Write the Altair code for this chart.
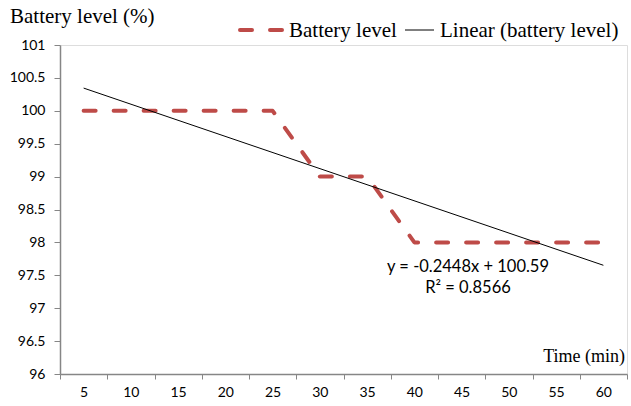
import altair as alt
import pandas as pd

# Measured battery level over a one-hour run
time_min = [5, 10, 15, 20, 25, 30, 35, 40, 45, 50, 55, 60]
battery = [100, 100, 100, 100, 100, 99, 99, 98, 98, 98, 98, 98]

# Linear trendline (x is the point index 1..12)
SLOPE = -0.2448
INTERCEPT = 100.59
R2 = 0.8566

y_ticks = [96, 96.5, 97, 97.5, 98, 98.5, 99, 99.5, 100, 100.5, 101]

RED = "#BE4B48"
AXIS_GREY = "#868686"
SERIF = "Liberation Serif"
SANS = "Lato"

W, H = 567, 329

df = pd.DataFrame({"time": time_min, "level": battery})
trend = pd.DataFrame({
    "time": [time_min[0], time_min[-1]],
    "level": [SLOPE * 1 + INTERCEPT, SLOPE * len(time_min) + INTERCEPT],
})

x_scale = alt.Scale(paddingInner=0, paddingOuter=0)
x_axis = alt.Axis(
    title=None, labelAngle=0, tickBand="extent", tickSize=5,
    labelFont=SANS, labelFontSize=14, labelColor="#000000", labelPadding=6,
    domainColor=AXIS_GREY, tickColor=AXIS_GREY, domainWidth=1.5, grid=False,
)
y_scale = alt.Scale(domain=[96, 101], nice=False, zero=False)
y_axis = alt.Axis(
    title=None, values=y_ticks, format=".1~f", tickSize=6, labelOverlap=False,
    labelFont=SANS, labelFontSize=14, labelColor="#000000", labelPadding=9,
    domainColor=AXIS_GREY, tickColor=AXIS_GREY, domainWidth=1.5, grid=False,
)


def x_enc():
    return alt.X("time:O", sort=time_min, scale=x_scale, axis=x_axis)


def y_enc():
    return alt.Y("level:Q", scale=y_scale, axis=y_axis)


level_line = alt.Chart(df).mark_line(
    color=RED, strokeWidth=4, strokeDash=[12, 18], strokeCap="round", strokeJoin="round"
).encode(x=x_enc(), y=y_enc())

trend_line = alt.Chart(trend).mark_line(color="#000000", strokeWidth=1).encode(
    x=x_enc(), y=y_enc()
)

text_df = pd.DataFrame({"t": [""]})


def label(txt, x, y, font, size, align="left", baseline="alphabetic"):
    return alt.Chart(text_df).mark_text(
        text=txt, font=font, fontSize=size, align=align, baseline=baseline, color="#000000"
    ).encode(x=alt.value(x), y=alt.value(y))


title = label("Battery level (%)", -50, -22, SERIF, 21)
x_title = label("Time (min)", W - 2, 317, SERIF, 18, align="right")
eq1 = label(f"y = {SLOPE}x + {INTERCEPT}", 408, 227, SANS, 16.5, align="center")
eq2 = label(f"R² = {R2}", 408, 248, SANS, 16.5, align="center")

# Legend
leg_dash = alt.Chart(text_df).mark_rule(
    color=RED, strokeWidth=4, strokeDash=[12, 18], strokeCap="round"
).encode(x=alt.value(180), x2=alt.value(226), y=alt.value(-15))
leg_txt1 = label("Battery level", 229, -8, SERIF, 21)
leg_solid = alt.Chart(text_df).mark_rule(color="#000000", strokeWidth=1).encode(
    x=alt.value(345), x2=alt.value(374), y=alt.value(-15)
)
leg_txt2 = label("Linear (battery level)", 380, -8, SERIF, 21)

chart = alt.layer(
    level_line, trend_line, title, x_title, eq1, eq2, leg_dash, leg_txt1, leg_solid, leg_txt2
).properties(
    width=W, height=H,
    autosize=alt.AutoSizeParams(type="none"),
    padding={"left": 60, "top": 45, "right": 4, "bottom": 32},
).configure_view(strokeWidth=0).configure(background="#ffffff")

chart.save("out.html", embed_options={"renderer": "svg", "actions": False})
